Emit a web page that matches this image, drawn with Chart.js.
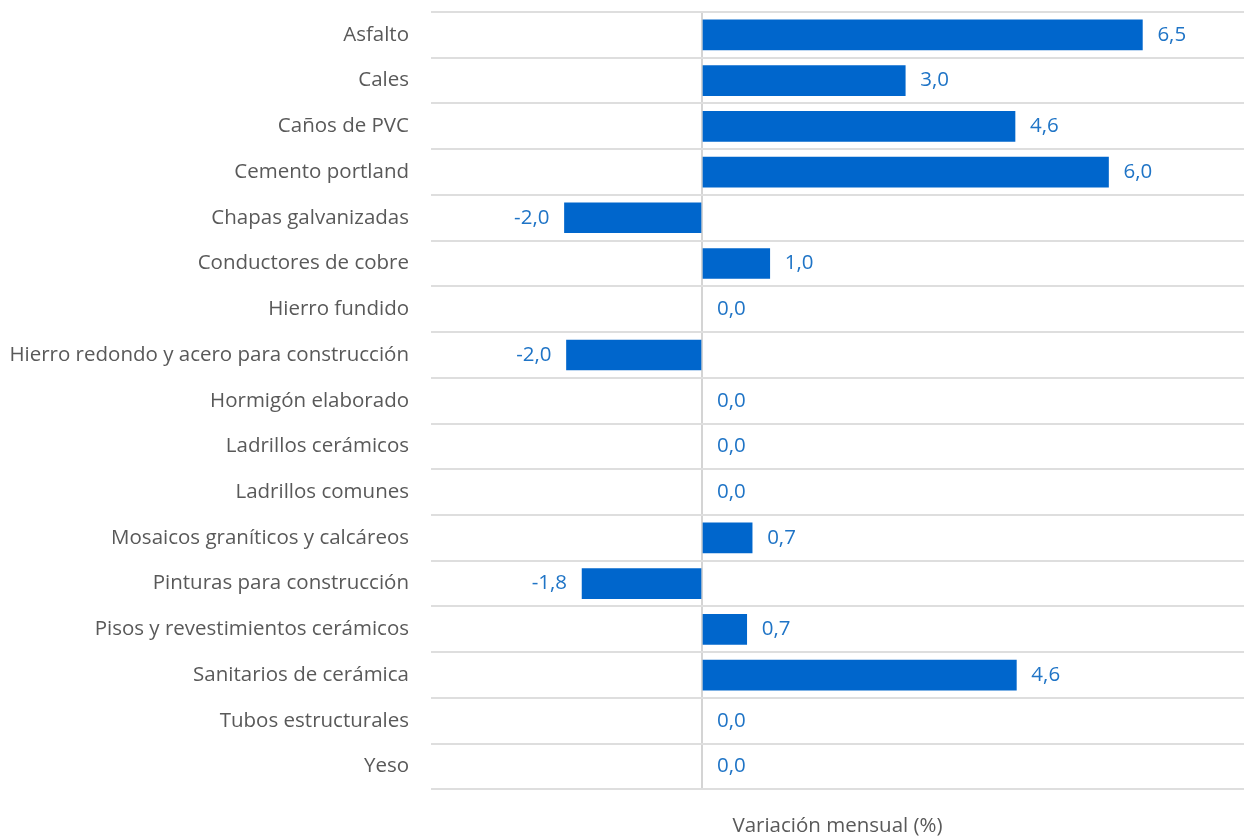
<!DOCTYPE html>
<html lang="es">
<head>
<meta charset="utf-8">
<title>Variación mensual (%)</title>
<script src="https://cdn.jsdelivr.net/npm/chart.js@4.4.1/dist/chart.umd.min.js"></script>
<style>
    html, body { margin: 0; padding: 0; background: #fff; }
    #wrap { width: 1245px; height: 840px; position: relative; }
</style>
</head>
<body>
<div id="wrap"><canvas id="chart"></canvas></div>
<script>
// categorias y valores (variación mensual, %)
const categorias = [
    'Asfalto', 'Cales', 'Caños de PVC', 'Cemento portland', 'Chapas galvanizadas',
    'Conductores de cobre', 'Hierro fundido', 'Hierro redondo y acero para construcción',
    'Hormigón elaborado', 'Ladrillos cerámicos', 'Ladrillos comunes',
    'Mosaicos graníticos y calcáreos', 'Pinturas para construcción',
    'Pisos y revestimientos cerámicos', 'Sanitarios de cerámica',
    'Tubos estructurales', 'Yeso'
];
const variacion = [6.5, 3.0, 4.62, 6.0, -2.03, 1.0, 0, -2.0, 0, 0, 0, 0.74, -1.77, 0.66, 4.64, 0, 0];
const ejeMin = -4;
const ejeMax = 8;
const tituloEje = 'Variación mensual (%)';

const fmt = v => v.toFixed(1).replace('.', ',');

// etiquetas de valor al final de cada barra
const valueLabels = {
    id: 'valueLabels',
    afterDatasetsDraw(chart) {
        const ctx = chart.ctx;
        const meta = chart.getDatasetMeta(0);
        ctx.save();
        ctx.font = '20.5px "Open Sans", sans-serif';
        ctx.fillStyle = '#1f74c6';
        ctx.textBaseline = 'middle';
        meta.data.forEach((bar, i) => {
            const v = variacion[i];
            if (v < 0) {
                ctx.textAlign = 'right';
                ctx.fillText(fmt(v), bar.x - 15, bar.y);
            } else {
                ctx.textAlign = 'left';
                ctx.fillText(fmt(v), bar.x + 15, bar.y);
            }
        });
        ctx.restore();
    }
};

Chart.defaults.font.family = '"Open Sans", sans-serif';
Chart.defaults.font.size = 20.5;
Chart.defaults.color = '#595959';

new Chart(document.getElementById('chart'), {
    type: 'bar',
    data: {
        labels: categorias,
        datasets: [{
            data: variacion,
            backgroundColor: c => (variacion[c.dataIndex] === 0 ? 'rgba(0,0,0,0)' : '#0066cc'),
            borderWidth: 0,
            barThickness: 30
        }]
    },
    options: {
        indexAxis: 'y',
        responsive: true,
        maintainAspectRatio: false,
        animation: false,
        layout: { padding: { top: 12, right: 1, left: 0, bottom: 0 } },
        plugins: {
            legend: { display: false },
            tooltip: { enabled: false }
        },
        scales: {
            x: {
                min: ejeMin,
                max: ejeMax,
                border: { display: false },
                ticks: { display: false, stepSize: 1 },
                grid: {
                    drawTicks: false,
                    lineWidth: 2,
                    color: c => (c.tick && c.tick.value === 0) ? '#d4d4d4' : 'rgba(0,0,0,0)'
                },
                title: {
                    display: true,
                    text: tituloEje,
                    color: '#595959',
                    font: { size: 20.5 },
                    padding: { top: 24, bottom: 2 }
                }
            },
            y: {
                border: { display: false },
                grid: {
                    offset: true,
                    drawTicks: false,
                    lineWidth: 2,
                    color: '#dedede'
                },
                ticks: { padding: 22, color: '#595959' },
                afterFit(scale) {
                    scale.width = 431;
                    scale.paddingTop = 0;
                    scale.paddingBottom = 0;
                }
            }
        }
    },
    plugins: [valueLabels]
});
</script>
</body>
</html>
